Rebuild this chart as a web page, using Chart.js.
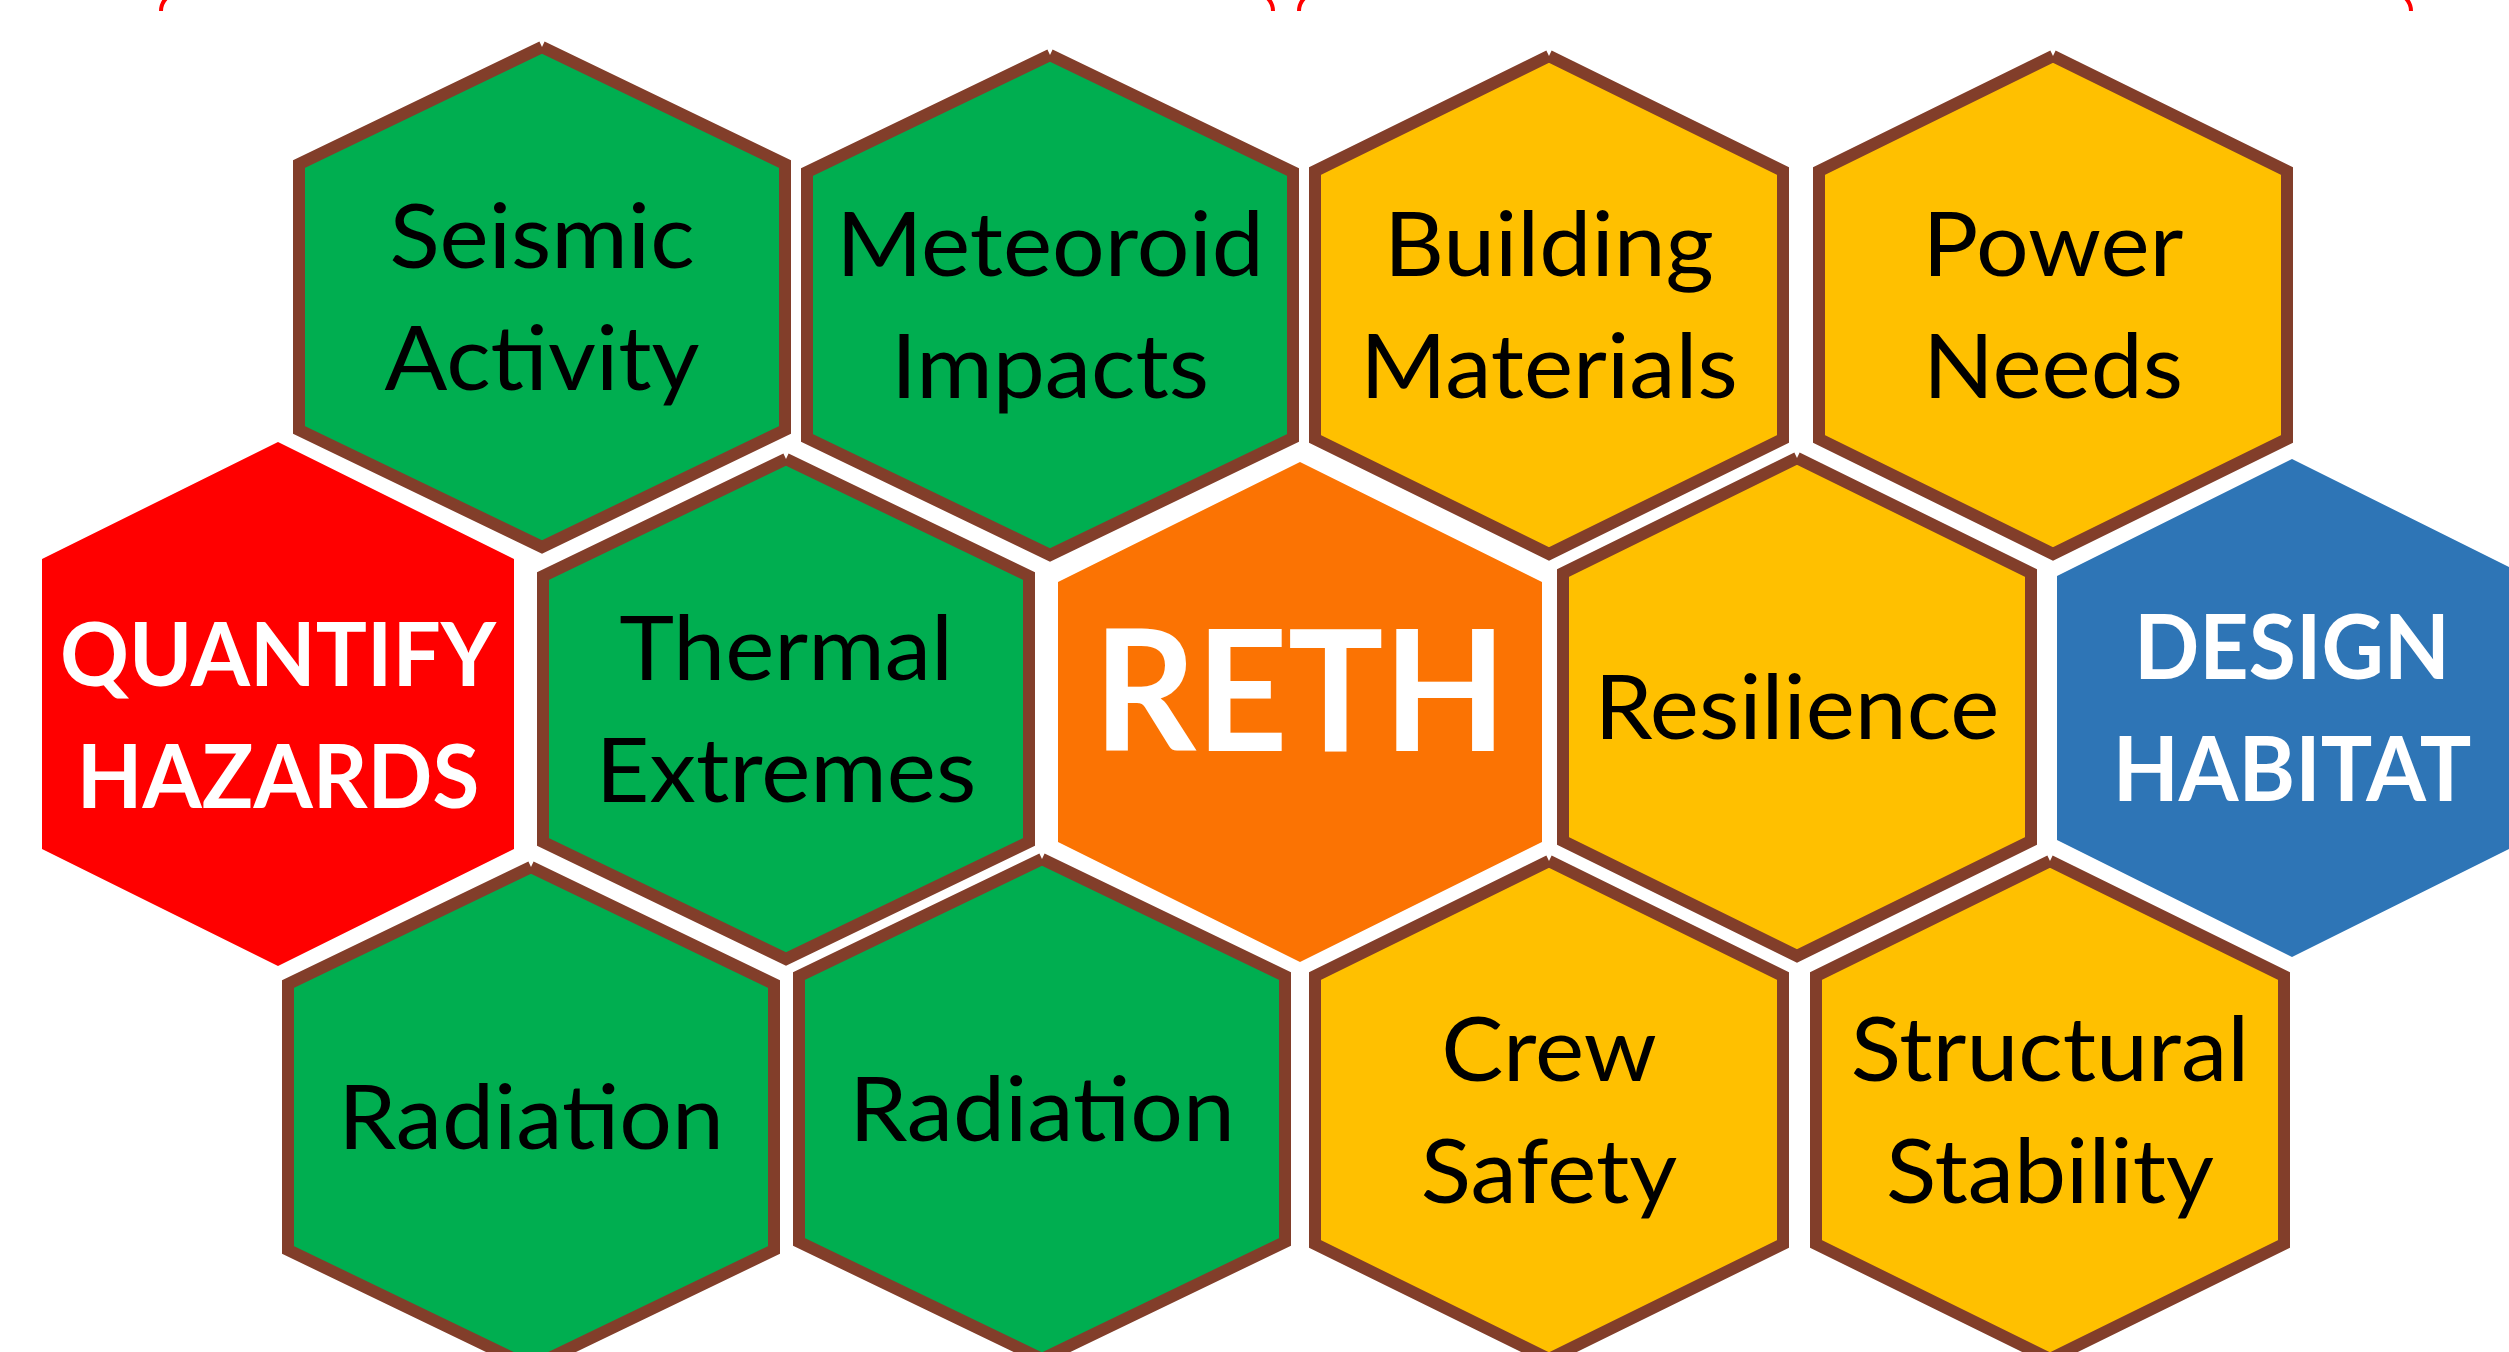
<!DOCTYPE html>
<html>
<head>
<meta charset="utf-8">
<title>RETH</title>
<script src="https://cdn.jsdelivr.net/npm/chart.js@4.4.1/dist/chart.umd.min.js"></script>
<style>
  html, body { margin: 0; padding: 0; background: #fff; overflow: hidden; }
  #wrap { width: 2509px; height: 1352px; position: relative; }
</style>
</head>
<body>
<div id="wrap"><canvas id="chart-reth"></canvas></div>
<script>
// Células do diagrama (mesma ordem em todas as listas)
const cellLabels = [
  'Seismic|Activity', 'Meteoroid|Impacts', 'Building|Materials', 'Power|Needs',
  'QUANTIFY|HAZARDS', 'Thermal|Extremes', 'RETH', 'Resilience', 'DESIGN|HABITAT',
  'Radiation', 'Radiation', 'Crew|Safety', 'Structural|Stability',
];
const cellX = [542, 1050, 1549, 2053, 278, 786, 1300, 1797, 2292, 531, 1042, 1549, 2050];
const cellY = [297, 305, 305, 305, 704, 709, 712, 707, 708, 1117, 1109, 1110, 1110];
const cellKind = [
  'hazard', 'hazard', 'design', 'design',
  'quantify', 'hazard', 'core', 'design', 'habitat',
  'hazard', 'hazard', 'design', 'design',
];

// pontas das chaves vermelhas cortadas no topo
const braceSpans = [[161, 1273], [1299, 2411]];

const BROWN = '#823E2A';
const KIND = {
  hazard:   { fill: '#00AE50', edge: BROWN, hw: 243, hh: 250, side: 133, color: '#000', weight: 'normal', size: 89,  sx: 1.045, dy: 0 },
  design:   { fill: '#FFC000', edge: BROWN, hw: 234, hh: 249, side: 134, color: '#000', weight: 'normal', size: 89,  sx: 1.045, dy: 0 },
  quantify: { fill: '#FF0000', edge: null,  hw: 236, hh: 262, side: 145, color: '#fff', weight: 'bold',   size: 88,  sx: 0.97,  dy: 11 },
  core:     { fill: '#FB7303', edge: null,  hw: 242, hh: 250, side: 130, color: '#fff', weight: 'bold',   size: 168, sx: 0.95,  dy: -21 },
  habitat:  { fill: '#2E75B6', edge: null,  hw: 235, hh: 249, side: 132, color: '#fff', weight: 'bold',   size: 90,  sx: 0.955, dy: 0 },
};
const LINE_GAP = 122;
const FONT = 'Lato, "Open Sans", sans-serif';

const hexPoints = (cx, cy, k) => [
  { x: cx,        y: cy - k.hh },
  { x: cx + k.hw, y: cy - k.side },
  { x: cx + k.hw, y: cy + k.side },
  { x: cx,        y: cy + k.hh },
  { x: cx - k.hw, y: cy + k.side },
  { x: cx - k.hw, y: cy - k.side },
  { x: cx,        y: cy - k.hh },
];

const datasets = cellLabels.map((lbl, i) => {
  const k = KIND[cellKind[i]];
  return {
    label: lbl.replace('|', ' '),
    data: hexPoints(cellX[i], cellY[i], k),
    showLine: true,
    fill: 'shape',
    backgroundColor: k.fill,
    borderColor: k.edge || k.fill,
    borderWidth: k.edge ? 12 : 0,
    borderJoinStyle: 'miter',
    borderCapStyle: 'butt',
    tension: 0,
    pointRadius: 0,
    pointHoverRadius: 0,
  };
});

// textos dentro dos hexágonos
const cellText = {
  id: 'cellText',
  afterDatasetsDraw(chart) {
    const { ctx, scales: { x, y } } = chart;
    ctx.save();
    ctx.textAlign = 'center';
    ctx.textBaseline = 'alphabetic';
    cellLabels.forEach((lbl, i) => {
      const k = KIND[cellKind[i]];
      const lines = lbl.split('|');
      const px = x.getPixelForValue(cellX[i]);
      const py = y.getPixelForValue(cellY[i]) + k.dy;
      ctx.font = `${k.weight} ${k.size}px ${FONT}`;
      ctx.fillStyle = k.color;
      const capH = k.size * 0.7165;
      lines.forEach((t, j) => {
        const mid = py + (j - (lines.length - 1) / 2) * LINE_GAP;
        ctx.save();
        ctx.translate(px, mid + capH / 2);
        ctx.scale(k.sx, 1);
        ctx.fillText(t, 0, 0);
        ctx.restore();
      });
    });
    ctx.restore();
  },
};

// pontas das chaves (curvas vermelhas no topo)
const braceTips = {
  id: 'braceTips',
  afterDraw(chart) {
    const { ctx, scales: { x, y } } = chart;
    const r = 18;
    const tipY = y.getPixelForValue(11);
    ctx.save();
    ctx.strokeStyle = '#FF0000';
    ctx.lineWidth = 4;
    braceSpans.forEach(([a, b]) => {
      const xa = x.getPixelForValue(a);
      const xb = x.getPixelForValue(b);
      ctx.beginPath();
      ctx.arc(xa + r, tipY, r, Math.PI, Math.PI + 0.8);
      ctx.stroke();
      ctx.beginPath();
      ctx.arc(xb - r, tipY, r, 2 * Math.PI - 0.8, 2 * Math.PI);
      ctx.stroke();
    });
    ctx.restore();
  },
};

new Chart(document.getElementById('chart-reth'), {
  type: 'scatter',
  data: { datasets },
  options: {
    responsive: true,
    maintainAspectRatio: false,
    animation: false,
    layout: { padding: 0 },
    plugins: { legend: { display: false }, tooltip: { enabled: false } },
    scales: {
      x: { type: 'linear', min: 0, max: 2509, display: false },
      y: { type: 'linear', min: 0, max: 1352, reverse: true, display: false },
    },
  },
  plugins: [cellText, braceTips],
});
</script>
</body>
</html>
